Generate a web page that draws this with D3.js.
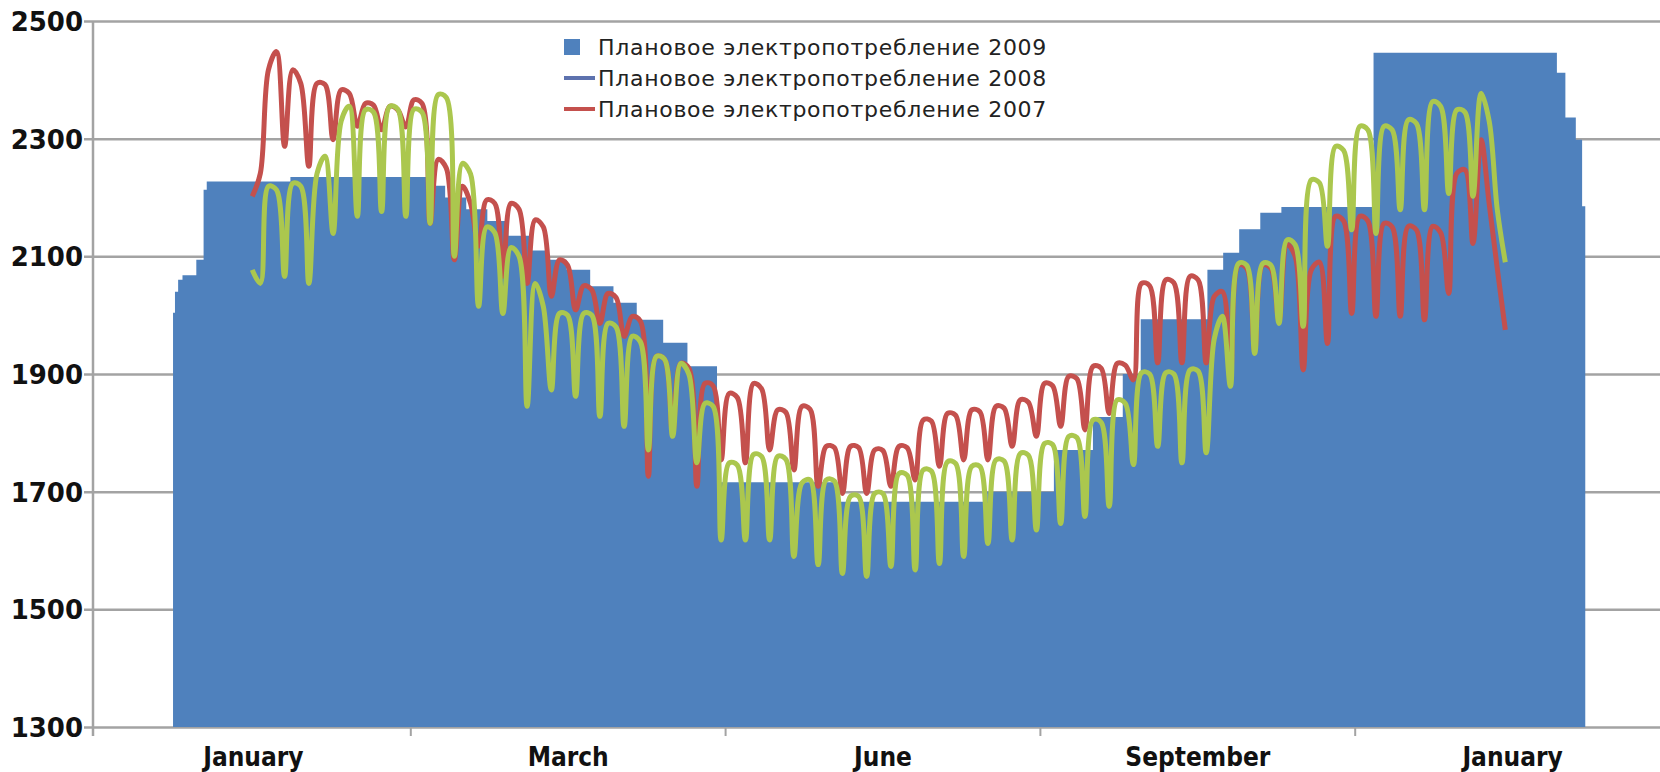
<!DOCTYPE html>
<html>
<head>
<meta charset="utf-8">
<script src="https://cdn.jsdelivr.net/npm/d3@7/dist/d3.min.js"></script>
<style>
  body { margin: 0; background: #fff; }
  .ylab { font-family: "DejaVu Sans", Verdana, sans-serif; font-weight: bold; font-size: 26px; fill: #111; }
  .xlab { font-family: "DejaVu Sans Condensed", "DejaVu Sans", sans-serif; font-stretch: condensed; font-weight: bold; font-size: 26px; fill: #111; }
  .legend text { font-family: "DejaVu Sans", sans-serif; font-size: 22px; letter-spacing: 0.7px; fill: #222; }
</style>
</head>
<body>
<div id="chart"></div>
<script>
// category labels under the x axis
const monthLabels = ['January', 'March', 'June', 'September', 'January'];
const yTicks = [1300, 1500, 1700, 1900, 2100, 2300, 2500];

const legendLabels = [
  'Плановое электропотребление 2009',
  'Плановое электропотребление 2008',
  'Плановое электропотребление 2007'
];

// 2009 plan: step levels (x in weeks from the first weekend of 2007 series)
const blueWeeks = [-3.60, -3.52, -3.39, -3.21, -2.64, -2.34, -2.21, 1.24, 6.87, 7.62,
  8.49, 9.36, 10.23, 11.11, 11.85, 12.63, 13.60, 14.56, 15.52, 16.61,
  17.61, 18.83, 23.77, 29.97, 32.72, 34.33, 35.56, 36.30, 39.05, 39.70,
  40.36, 41.23, 42.10, 45.90, 53.46, 53.81, 54.24, 54.50, 54.63];
const blueValues = [2004, 2040, 2060, 2068, 2094, 2213, 2227, 2235, 2220, 2200,
  2180, 2160, 2135, 2110, 2094, 2077, 2049, 2021, 1992, 1953,
  1913, 1716, 1683, 1700, 1771, 1827, 1900, 1993, 2077, 2106,
  2146, 2174, 2184, 2446, 2412, 2336, 2298, 2185, 2185];

// 2008 (drawn yellow-green), three points a week starting at week -1/3
const values2008 = [2077,
  2054, 2219, 2213, 2066, 2224, 2219, 2054, 2240, 2270, 2139, 2330, 2355,
  2168, 2349, 2345, 2176, 2355, 2350, 2168, 2350, 2345, 2156, 2375, 2370,
  2100, 2258, 2240, 2015, 2150, 2140, 2003, 2115, 2100, 1845, 2054, 2015,
  1873, 2003, 2000, 1862, 2003, 2000, 1828, 1986, 1980, 1811, 1964, 1955,
  1771, 1930, 1925, 1794, 1918, 1900, 1749, 1850, 1845, 1618, 1749, 1745,
  1618, 1763, 1760, 1618, 1760, 1755, 1590, 1715, 1720, 1576, 1720, 1718,
  1561, 1692, 1692, 1556, 1697, 1697, 1573, 1731, 1728, 1567, 1737, 1735,
  1578, 1751, 1748, 1590, 1743, 1743, 1612, 1754, 1752, 1618, 1765, 1762,
  1635, 1782, 1780, 1646, 1794, 1792, 1658, 1822, 1818, 1675, 1856, 1850,
  1746, 1902, 1900, 1777, 1902, 1900, 1749, 1907, 1905, 1766, 1960, 1998,
  1879, 2088, 2085, 1935, 2088, 2085, 1986, 2128, 2120, 1981, 2230, 2225,
  2117, 2287, 2280, 2145, 2321, 2315, 2139, 2321, 2315, 2179, 2332, 2326,
  2179, 2363, 2355, 2207, 2349, 2345, 2202, 2377, 2330,
  2180, 2090];

// 2007 (red)
const values2007 = [2202,
  2241, 2417, 2448, 2287, 2417, 2394, 2253, 2394, 2392, 2298, 2383, 2377,
  2321, 2360, 2357, 2315, 2355, 2349, 2320, 2366, 2360, 2156, 2265, 2250,
  2094, 2219, 2190, 2117, 2196, 2190, 2066, 2190, 2180, 2054, 2162, 2150,
  2032, 2094, 2085, 2009, 2050, 2043, 1986, 2037, 2030, 1964, 1998, 1990,
  1726, 1930, 1925, 1800, 1918, 1910, 1709, 1884, 1880, 1754, 1867, 1860,
  1749, 1884, 1875, 1771, 1839, 1835, 1737, 1845, 1840, 1709, 1777, 1775,
  1697, 1777, 1775, 1697, 1771, 1770, 1709, 1777, 1775, 1720, 1822, 1820,
  1743, 1833, 1830, 1754, 1839, 1836, 1754, 1845, 1842, 1777, 1856, 1852,
  1794, 1884, 1880, 1811, 1896, 1892, 1805, 1913, 1910, 1833, 1918, 1915,
  1890, 2054, 2050, 1919, 2060, 2055, 1919, 2066, 2060, 1919, 2032, 2040,
  1900, 2085, 2080, 1940, 2085, 2080, 1990, 2120, 2100, 1907, 2077, 2090,
  1952, 2168, 2160, 2003, 2168, 2160, 1998, 2156, 2150, 1998, 2151, 2145,
  1992, 2151, 2140, 2037, 2241, 2247, 2122, 2298, 2190,
  2080, 1975];

const width = 1660;
const height = 772;
const plot = { left: 93, right: 1667, top: 21, bottom: 727 };

const svg = d3.select('#chart').append('svg')
  .attr('width', width)
  .attr('height', height);

const x = d3.scaleLinear().domain([-6.9, 58]).range([plot.left, plot.right]);
const y = d3.scaleLinear().domain([1300, 2500]).range([plot.bottom, plot.top]);
const xBand = d3.scaleBand().domain(d3.range(monthLabels.length)).range([96, 1670]);

function toPoints(values) {
  return values.map((v, i) => ({ x: (i - 1) / 3, v: v }));
}

// gridlines + y axis
const yAxis = d3.axisLeft(y)
  .tickValues(yTicks)
  .tickFormat(d3.format('d'))
  .tickSize(-(width - plot.left))
  .tickSizeOuter(0)
  .tickPadding(10);
const gy = svg.append('g')
  .attr('transform', `translate(${plot.left},0)`)
  .call(yAxis);
gy.select('.domain').remove();
gy.selectAll('.tick line').attr('stroke', '#a3a3a3').attr('stroke-width', 2.5).attr('x1', -9);
gy.selectAll('.tick text').attr('class', 'ylab').attr('dy', '0.36em');

// 2009 area
const blueData = blueWeeks.map((w, i) => ({ x: w, v: blueValues[i] }));
svg.append('path')
  .datum(blueData)
  .attr('fill', '#4f81bd')
  .attr('d', d3.area()
    .curve(d3.curveStepAfter)
    .x(d => x(d.x))
    .y0(y(1300))
    .y1(d => y(d.v)));

// lines
const line = d3.line()
  .curve(d3.curveCatmullRom.alpha(0.5))
  .x(d => x(d.x))
  .y(d => y(d.v));

svg.append('path')
  .datum(toPoints(values2007))
  .attr('fill', 'none')
  .attr('stroke', '#c4504d')
  .attr('stroke-width', 5)
  .attr('stroke-linejoin', 'round')
  .attr('d', line);

svg.append('path')
  .datum(toPoints(values2008))
  .attr('fill', 'none')
  .attr('stroke', '#abc74e')
  .attr('stroke-width', 5)
  .attr('stroke-linejoin', 'round')
  .attr('d', line);

// vertical axis line
svg.append('line')
  .attr('x1', plot.left).attr('x2', plot.left)
  .attr('y1', plot.top).attr('y2', plot.bottom + 9)
  .attr('stroke', '#a3a3a3').attr('stroke-width', 2.5);

// x axis: labels centred in bands, ticks on band edges
const gx = svg.append('g')
  .attr('transform', `translate(0,${plot.bottom})`)
  .call(d3.axisBottom(xBand).tickSize(0).tickPadding(21).tickFormat(i => monthLabels[i]));
gx.select('.domain').remove();
gx.selectAll('.tick text').attr('class', 'xlab');

svg.append('g')
  .selectAll('line')
  .data(d3.range(1, monthLabels.length))
  .join('line')
  .attr('x1', d => xBand(d)).attr('x2', d => xBand(d))
  .attr('y1', plot.bottom).attr('y2', plot.bottom + 9)
  .attr('stroke', '#a3a3a3').attr('stroke-width', 2);

// legend
const legend = svg.append('g').attr('class', 'legend').attr('transform', 'translate(564,47)');
const rows = legend.selectAll('g')
  .data(legendLabels)
  .join('g')
  .attr('transform', (d, i) => `translate(0,${i * 31})`);
rows.filter((d, i) => i === 0).append('rect')
  .attr('x', 0).attr('y', -8).attr('width', 16).attr('height', 16)
  .attr('fill', '#4f81bd');
rows.filter((d, i) => i > 0).append('line')
  .attr('x1', 0).attr('x2', 31).attr('y1', 0).attr('y2', 0)
  .attr('stroke-width', 4)
  .attr('stroke', (d, i) => i === 0 ? '#5d72ae' : '#c4504d');
rows.append('text')
  .attr('x', 34)
  .attr('dy', '0.36em')
  .text(d => d);
</script>
</body>
</html>
